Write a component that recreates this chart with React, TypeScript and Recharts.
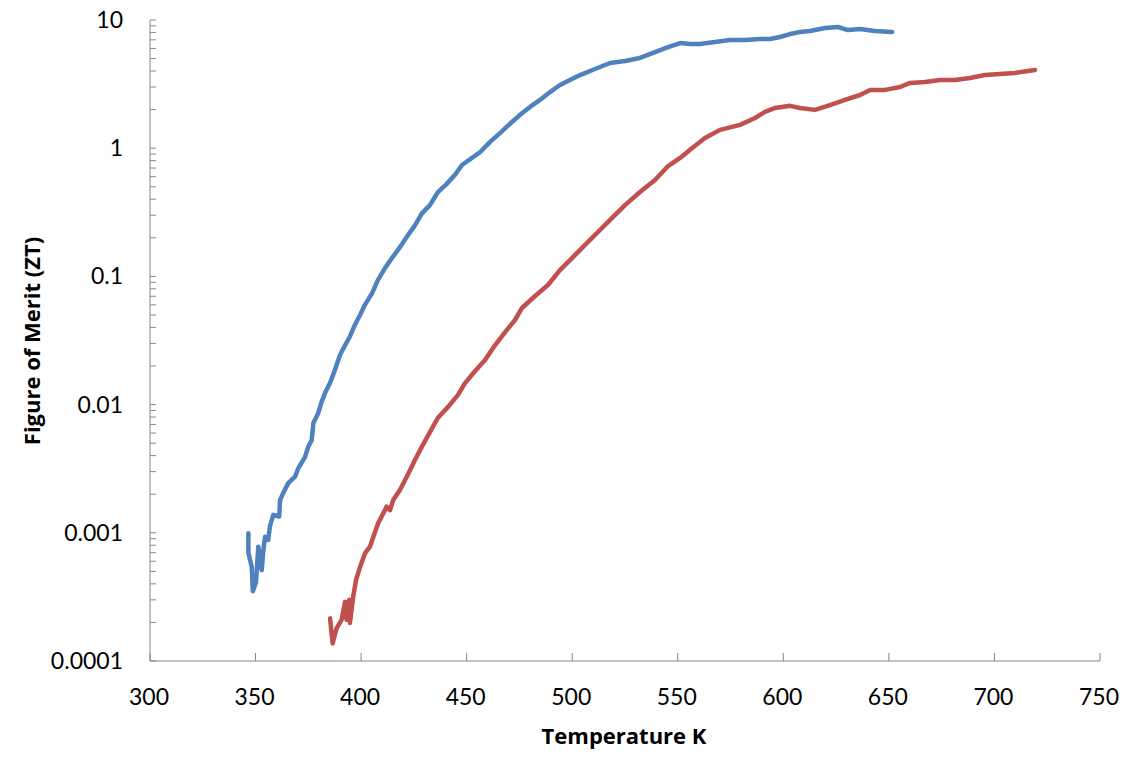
import { LineChart, Line, XAxis, YAxis, Label } from 'recharts';

// temperature (K) and figure of merit
const blueT = [
  346.6, 346.6, 348.2, 348.7, 350.2, 351.3, 352.9, 353.7, 354.5, 356.0, 356.8, 358.4,
  361.2, 361.6, 363.1, 365.5, 368.7, 370.3, 373.4, 375.0, 376.6, 377.4, 379.7, 381.3,
  382.9, 385.3, 387.6, 390.0, 392.4, 394.7, 397.1, 399.5, 401.8, 405.2, 408.0, 411.3,
  414.6, 418.4, 422.2, 425.5, 428.8, 432.6, 436.4, 440.2, 444.5, 447.8, 452.5, 456.3,
  461.1, 465.8, 470.5, 475.3, 480.0, 484.7, 489.5, 494.2, 498.9, 503.7, 510.8, 517.9,
  525.0, 532.1, 539.2, 545.4, 551.1, 555.8, 560.5, 567.6, 574.7, 581.9, 589.0, 593.7,
  598.4, 603.2, 607.9, 612.6, 619.8, 625.9, 630.6, 636.3, 643.4, 651.5,
];
const blueZT = [
  0.00099, 0.0007, 0.00054, 0.00035, 0.00041, 0.00078, 0.00051, 0.00073, 0.00093, 0.00088, 0.00112, 0.00138,
  0.00134, 0.0018, 0.00204, 0.00244, 0.00274, 0.0032, 0.0039, 0.0047, 0.0053, 0.0072, 0.0086, 0.0105,
  0.0123, 0.0148, 0.0186, 0.0244, 0.029, 0.034, 0.042, 0.05, 0.06, 0.074, 0.094, 0.116,
  0.139, 0.169, 0.21, 0.25, 0.31, 0.36, 0.455, 0.52, 0.62, 0.74, 0.84, 0.93,
  1.12, 1.31, 1.55, 1.82, 2.1, 2.38, 2.74, 3.11, 3.4, 3.72, 4.15, 4.62,
  4.79, 5.06, 5.62, 6.15, 6.61, 6.5, 6.5, 6.73, 6.98, 6.98, 7.1, 7.1,
  7.37, 7.77, 8.05, 8.2, 8.66, 8.82, 8.35, 8.5, 8.2, 8.05,
];

const redT = [
  385.3, 386.5, 388.4, 390.8, 392.4, 393.1, 394.4, 394.7, 396.3, 397.6, 399.5, 401.8,
  404.2, 405.8, 408.1, 410.5, 412.1, 413.7, 415.2, 418.4, 422.4, 425.5, 428.8, 432.6,
  436.4, 441.2, 445.9, 449.2, 454.0, 458.7, 463.4, 468.2, 472.9, 476.2, 482.4, 488.5,
  494.2, 499.9, 506.1, 512.2, 518.9, 525.0, 532.1, 539.2, 545.4, 551.1, 556.7, 562.9,
  570.0, 579.5, 586.6, 591.3, 596.1, 603.2, 607.9, 615.0, 622.1, 629.2, 636.3, 641.1,
  648.2, 655.3, 660.0, 667.1, 674.2, 681.3, 688.4, 695.5, 702.6, 709.7, 719.2,
];
const redZT = [
  0.000215, 0.000137, 0.00018, 0.00021, 0.00029, 0.00021, 0.0003, 0.000198, 0.00032, 0.00043, 0.00054, 0.00069,
  0.00078, 0.00093, 0.00119, 0.00142, 0.0016, 0.0015, 0.0018, 0.00216, 0.0029, 0.0037, 0.0047, 0.0061,
  0.0079, 0.0096, 0.0119, 0.0147, 0.0183, 0.0223, 0.029, 0.0368, 0.0457, 0.0567, 0.0703, 0.0857,
  0.112, 0.139, 0.176, 0.222, 0.286, 0.36, 0.455, 0.565, 0.726, 0.84, 1.0, 1.2,
  1.39, 1.52, 1.72, 1.92, 2.06, 2.14, 2.06, 1.99, 2.17, 2.38, 2.6, 2.85,
  2.85, 3.0, 3.23, 3.28, 3.4, 3.4, 3.53, 3.72, 3.79, 3.86, 4.08,
];

const xTicks = [300, 350, 400, 450, 500, 550, 600, 650, 700, 750];
const yDecades = [0.0001, 0.001, 0.01, 0.1, 1, 10];
const yDecadeLabels = ['0.0001', '0.001', '0.01', '0.1', '1', '10'];
const yMinorSteps = [2, 3, 4, 5, 6, 7, 8, 9];

const blueData = blueT.map((t, i) => ({ t, zt: blueZT[i] }));
const redData = redT.map((t, i) => ({ t, zt: redZT[i] }));

// decades plus the minor log ticks in between
const yTicks: number[] = [];
yDecades.forEach((d, i) => {
  yTicks.push(d);
  if (i < yDecades.length - 1) yMinorSteps.forEach((m) => yTicks.push(m * d));
});

const AXIS = '#868686';
const FONT = 'Lato, "Open Sans", sans-serif';
const TITLE_FONT = '"Open Sans", Lato, sans-serif';

const YTick = (props: any) => {
  const { x, y, payload } = props;
  const idx = yDecades.findIndex((d) => Math.abs(d - payload.value) < d * 1e-6);
  return (
    <g>
      <line x1={x} x2={x + 6} y1={y} y2={y} stroke={AXIS} />
      {idx >= 0 && (
        <text x={x - 27} y={y} dy={8} textAnchor="end" fontSize={23} fontFamily={FONT} fill="#000">
          {yDecadeLabels[idx]}
        </text>
      )}
    </g>
  );
};

const XTick = (props: any) => {
  const { x, y, payload } = props;
  return (
    <g>
      <line x1={x} x2={x} y1={y} y2={y - 8} stroke={AXIS} />
      <text x={x - 1} y={y + 44} textAnchor="middle" fontSize={23} fontFamily={FONT} fill="#000">
        {payload.value}
      </text>
    </g>
  );
};

export default function App() {
  // pull the chart over the body margin so it fills the window
  return (
    <div style={{ width: 1129, height: 757, margin: -8, background: '#fff' }}>
      <LineChart
        width={1129}
        height={757}
        margin={{ top: 20, right: 29, left: 0, bottom: 0 }}
        style={{ overflow: 'visible' }}
      >
        <XAxis
          type="number"
          dataKey="t"
          domain={[300, 750]}
          ticks={xTicks}
          interval={0}
          allowDataOverflow
          stroke={AXIS}
          tickSize={0}
          tickMargin={0}
          tickLine={false}
          tick={<XTick />}
          height={96}
        >
          <Label
            content={() => (
              <text x={624} y={744} textAnchor="middle" fontSize={22} fontWeight="bold" fontFamily={TITLE_FONT} fill="#000">
                Temperature K
              </text>
            )}
          />
        </XAxis>
        <YAxis
          type="number"
          dataKey="zt"
          scale="log"
          domain={[0.0001, 10]}
          ticks={yTicks}
          interval={0}
          allowDataOverflow
          stroke={AXIS}
          tickSize={0}
          tickMargin={0}
          tickLine={false}
          tick={<YTick />}
          width={150}
        >
          <Label
            content={() => (
              <text
                x={40}
                y={341}
                transform="rotate(-90 40 341)"
                textAnchor="middle"
                fontSize={22}
                fontWeight="bold"
                fontFamily={TITLE_FONT}
                fill="#000"
              >
                Figure of Merit (ZT)
              </text>
            )}
          />
        </YAxis>
        <Line
          data={blueData}
          dataKey="zt"
          type="linear"
          stroke="#4F81BD"
          strokeWidth={4.5}
          strokeLinejoin="round"
          strokeLinecap="round"
          dot={false}
          isAnimationActive={false}
        />
        <Line
          data={redData}
          dataKey="zt"
          type="linear"
          stroke="#C0504D"
          strokeWidth={4.5}
          strokeLinejoin="round"
          strokeLinecap="round"
          dot={false}
          isAnimationActive={false}
        />
      </LineChart>
    </div>
  );
}
